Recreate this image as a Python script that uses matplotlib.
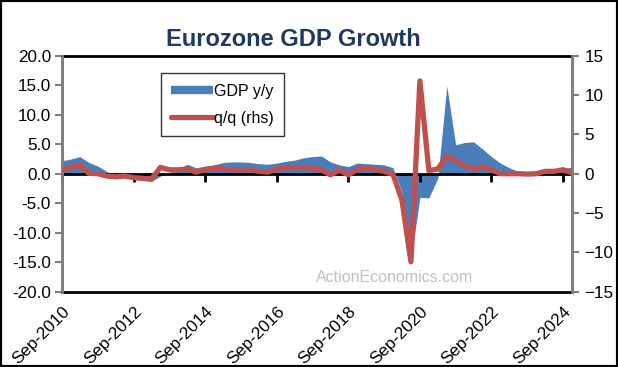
import matplotlib
matplotlib.use("Agg")
import matplotlib.pyplot as plt
from matplotlib.lines import Line2D
from matplotlib.patches import Rectangle
from matplotlib.markers import TICKDOWN

plt.rcParams['font.family'] = ['Liberation Sans', 'DejaVu Sans']

tick_labels = ["Sep-2010", "Sep-2012", "Sep-2014", "Sep-2016",
               "Sep-2018", "Sep-2020", "Sep-2022", "Sep-2024"]

gdp_yy = [2.2, 2.5, 2.9, 1.9, 1.3, 0.4, -0.3, -0.6, -0.8, -1.0,
          -1.3, -0.4, 0.2, 0.7, 1.6, 1.0, 1.3, 1.5, 1.9, 2.0,
          2.0, 1.9, 1.7, 1.6, 1.8, 2.1, 2.3, 2.7, 2.9, 3.0,
          2.0, 1.5, 1.2, 1.8, 1.7, 1.6, 1.5, 1.0, -3.2, -14.5,
          -4.0, -4.1, -0.8, 14.9, 4.9, 5.3, 5.4, 4.2, 2.9, 1.8,
          1.0, 0.4, 0.1, 0.1, 0.2, 0.4, 0.9, 1.1]

gdp_qq = [0.5, 0.8, 1.1, 0.05, 0.0, -0.3, -0.4, -0.3, -0.5, -0.6,
          -0.7, 0.8, 0.5, 0.5, 0.6, 0.2, 0.5, 0.7, 0.6, 0.5,
          0.5, 0.5, 0.3, 0.2, 0.6, 0.75, 0.8, 0.8, 0.7, 0.5,
          -0.15, 0.45, -0.15, 0.55, 0.75, 0.5, 0.3, -0.1, -3.4, -11.2,
          11.8, 0.4, 0.6, 2.2, 1.7, 1.0, 0.6, 0.9, 0.5, 0.0,
          0.0, 0.0, -0.05, 0.0, 0.3, 0.3, 0.5, 0.1]

x = list(range(len(gdp_yy)))
tick_pos = [i * 8 for i in range(len(tick_labels))]

W, H = 618, 367
fig = plt.figure(figsize=(W / 100, H / 100), dpi=100)
L, R, T, B = 62, 572, 55.7, 291.7
ax = fig.add_axes([L / W, 1 - B / H, (R - L) / W, (B - T) / H])

blue = '#4A7EBB'
red = '#C0504D'
grey = '#808080'
fs = 12.3

ax.fill_between(x, 0, gdp_yy, color=blue, lw=0, zorder=2)
ax.axhline(0, color='black', lw=2, zorder=2.5)
ax.plot(tick_pos, [0] * len(tick_pos), linestyle='none', marker=TICKDOWN,
        markersize=6, markeredgewidth=2, color='black', zorder=2.6,
        clip_on=False)
ax.set_xlim(0, len(x) - 1)
ax.set_ylim(-20, 20)
yl = [-20, -15, -10, -5, 0, 5, 10, 15, 20]
ax.set_yticks(yl)
ax.set_yticklabels([f"{v:.1f}" for v in yl])
ax.tick_params(axis='y', direction='out', length=5, width=1.5, color=grey,
               labelsize=fs, pad=3)
ax.set_xticks(tick_pos)
ax.set_xticklabels(tick_labels, rotation=45, ha='right', va='top',
                   rotation_mode='anchor', fontsize=fs)
ax.tick_params(axis='x', length=0, pad=9)

for s in ['left', 'right']:
    ax.spines[s].set_color(grey)
    ax.spines[s].set_linewidth(2)
for s in ['top', 'bottom']:
    ax.spines[s].set_color('black')
    ax.spines[s].set_linewidth(2)

ax2 = ax.twinx()
ax2.plot(x, gdp_qq, color=red, lw=3.8, solid_joinstyle='round',
         solid_capstyle='round', zorder=3)
ax2.set_ylim(-15, 15)
ax2.set_yticks([-15, -10, -5, 0, 5, 10, 15])
ax2.tick_params(axis='y', direction='out', length=5, width=1.5, color=grey,
                labelsize=fs, pad=4)
for s in ['left', 'right']:
    ax2.spines[s].set_color(grey)
    ax2.spines[s].set_linewidth(2)
for s in ['top', 'bottom']:
    ax2.spines[s].set_visible(False)

fig.text(293 / W, 1 - 40 / H, "Eurozone GDP Growth", ha='center',
         va='center', fontsize=17, fontweight='bold', color='#1F3864')

fig.text(395 / W, 1 - 277 / H, "ActionEconomics.com", ha='center',
         va='center', fontsize=11.5, color='#C0C0C0')

handles = [Line2D([], [], color=blue, lw=6, solid_capstyle='butt'),
           Line2D([], [], color=red, lw=3.8, solid_capstyle='round')]
leg = fig.legend(handles, ["GDP y/y", "q/q (rhs)"], loc='upper left',
                 bbox_to_anchor=(160.7 / W, 1 - 73.3 / H),
                 frameon=True, fancybox=False, fontsize=11.5,
                 handlelength=2.6, handletextpad=0.1, labelspacing=0.75,
                 borderpad=0.65, borderaxespad=0)
leg.get_frame().set_edgecolor('black')
leg.get_frame().set_linewidth(1)

fig.add_artist(Rectangle((0, 0), 1, 1, transform=fig.transFigure,
                         fill=False, edgecolor='black', lw=3))

fig.savefig("out.png", dpi=100)
